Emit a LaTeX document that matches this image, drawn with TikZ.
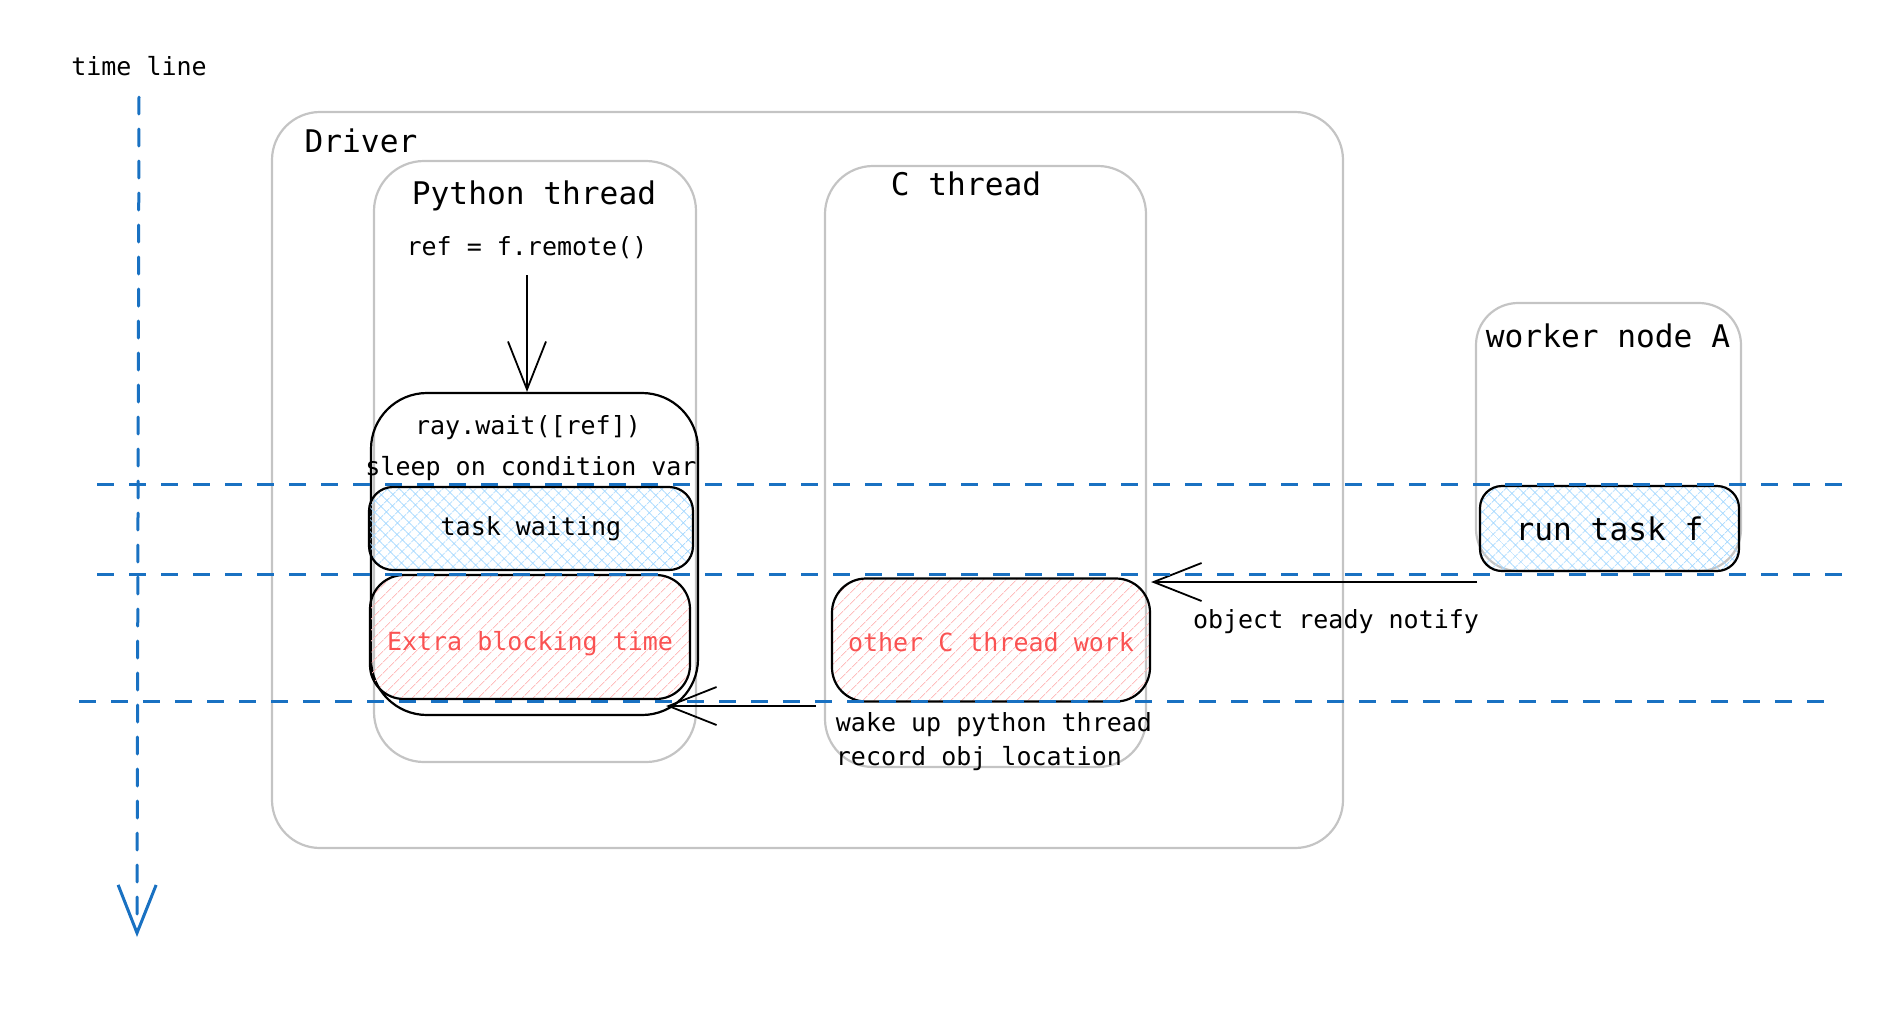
\documentclass[tikz,border=0pt]{standalone}
\usepackage{fontspec}
\setmainfont{DejaVu Sans Mono}
\usetikzlibrary{arrows.meta}
\usetikzlibrary{patterns.meta}
\usetikzlibrary{calc}
\usepackage{xcolor}

\definecolor{lineBlue}{RGB}{25,113,194}
\definecolor{frameGray}{RGB}{196,196,196}
\definecolor{hatchBlue}{RGB}{165,216,255}
\definecolor{hatchRed}{RGB}{255,190,190}
\definecolor{textRed}{RGB}{250,82,82}

\begin{document}
\begin{tikzpicture}[x=0.5pt,y=0.5pt,yscale=-1,xscale=1,
  bigLabel/.style={font=\fontsize{15.6}{18}\selectfont,inner sep=0.75pt},
  smallLabel/.style={font=\fontsize{12.5}{17}\selectfont,inner sep=0.75pt},
  frameBox/.style={draw=frameGray,line width=1.1pt,inner sep=0pt},
  stageBox/.style={draw=black,line width=1.1pt,inner sep=0pt},
  waitHatch/.style={pattern={Hatch[angle=45,distance=4pt,line width=0.45pt]},pattern color=hatchBlue},
  blockHatch/.style={pattern={Lines[angle=45,distance=4pt,line width=0.45pt]},pattern color=hatchRed},
  sketchArrow/.style={draw=black,line width=0.9pt,-{Straight Barb[length=24pt,width=19pt]}},
  timeMark/.style={draw=lineBlue,line width=1.5pt,dash pattern=on 8.5pt off 7.5pt}
]
\useasboundingbox (0,0) rectangle (1896,1034);

%Frames
\node[frameBox,rounded corners=24pt,minimum width=535.5pt,minimum height=368pt] (driver) at (807.5,480) {};
\node[frameBox,rounded corners=25pt,minimum width=161pt,minimum height=300.5pt] (pythread) at (535,461.5) {};
\node[frameBox,rounded corners=24pt,minimum width=160.5pt,minimum height=300.5pt] (cthread) at (985.5,466.5) {};
\node[frameBox,rounded corners=21pt,minimum width=132.5pt,minimum height=134pt] (worker) at (1608.5,437) {};

%Stages
\node[stageBox,rounded corners=28pt,minimum width=163.5pt,minimum height=161pt] (wait) at (534.5,554) {};
\node[stageBox,waitHatch,rounded corners=12pt,minimum width=162pt,minimum height=41.5pt,smallLabel] (waiting) at (531,528.5) {task waiting};
\node[stageBox,blockHatch,rounded corners=17pt,minimum width=160pt,minimum height=62pt,smallLabel,text=textRed,text height=16pt] (extra) at (530,637) {Extra blocking time};
\node[stageBox,blockHatch,rounded corners=17pt,minimum width=159pt,minimum height=61.5pt,smallLabel,text=textRed,text height=12pt] (cwork) at (991,640) {other C thread work};
\node[stageBox,waitHatch,rounded corners=11pt,minimum width=129.5pt,minimum height=42.5pt,bigLabel] (runf) at (1609.5,528.5) {run task f};

% Text Node
\node[smallLabel] (timelabel) at (139,66) {time line};
\node[bigLabel] (driverlabel) at (361,141) {Driver};
\node[bigLabel] (pylabel) at (534,196) {Python thread};
\node[smallLabel] (ref) at (527,248) {ref = f.remote()};
\node[smallLabel] (raywait) at (528,428) {ray.wait([ref])};
\node[smallLabel] (sleep) at (531,469) {sleep on condition var};
\node[bigLabel] (clabel) at (966,184) {C thread};
\node[bigLabel] (workerlabel) at (1608,336) {worker node A};
\node[smallLabel] (notifylabel) at (1336,622) {object ready notify};
\node[smallLabel,anchor=west,align=left] (wakelabel) at (834,742) {wake up python thread\\record obj location};

%Arrows
\coordinate (axistop) at (139,97);
\coordinate (axisend) at (137,937);
\coordinate (notifystart) at (1477,582);
\coordinate (wakestart) at (816,706);
\draw[timeMark,line cap=round,-{Straight Barb[length=24pt,width=19pt]}] (axistop) -- (axisend);
\draw[sketchArrow,shorten <=7pt] (ref.south) -- (ref.south |- wait.north);
\draw[sketchArrow] (notifystart) -- (cwork.east |- notifystart);
\draw[sketchArrow] (wakestart) -- ($(wait.east |- wakestart)+(-33,0)$);

%Time marks
\draw[timeMark] (97,484) -- (1856,484);
\draw[timeMark] (97,574) -- (1844,574);
\draw[timeMark] (79,701) -- (1835,701);

\end{tikzpicture}
\end{document}
